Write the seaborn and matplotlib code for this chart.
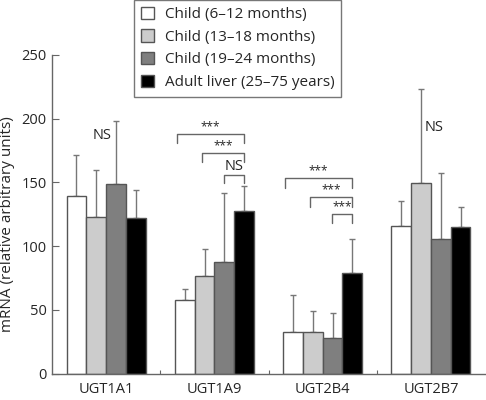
import matplotlib
matplotlib.use("Agg")
import matplotlib.pyplot as plt
import seaborn as sns
import pandas as pd
import numpy as np

genes = ["UGT1A1", "UGT1A9", "UGT2B4", "UGT2B7"]
groups = ["Child (6\u201312 months)", "Child (13\u201318 months)",
          "Child (19\u201324 months)", "Adult liver (25\u201375 years)"]
means = {
    groups[0]: [139.6, 57.5, 32.5, 115.6],
    groups[1]: [122.7, 76.6, 32.5, 149.8],
    groups[2]: [148.5, 87.4, 27.7, 105.6],
    groups[3]: [121.9, 127.4, 78.7, 115.3],
}
err_tops = {
    groups[0]: [171.3, 66.7, 61.5, 135.4],
    groups[1]: [160.0, 97.8, 49.0, 223.0],
    groups[2]: [198.4, 142.0, 47.4, 157.6],
    groups[3]: [144.3, 147.0, 105.4, 130.5],
}
colors = ["#ffffff", "#cccccc", "#7f7f7f", "#000000"]
yticks = [0, 50, 100, 150, 200, 250]

# significance annotations: (gene index, x-offset left, x-offset right, bracket y, tick bottom, label)
brackets = [
    (1, -0.345, 0.27, 188.0, 180.7, "***"),
    (1, -0.111, 0.27, 173.3, 166.0, "***"),
    (1, 0.086, 0.27, 155.8, 149.2, "NS"),
    (2, -0.35, 0.27, 153.3, 145.9, "***"),
    (2, -0.113, 0.27, 138.4, 131.0, "***"),
    (2, 0.085, 0.27, 125.0, 118.0, "***"),
]
ns_labels = [(0, -0.04, 181.0, "NS"), (3, 0.03, 187.0, "NS")]

rows = []
for g in groups:
    for i, gene in enumerate(genes):
        rows.append({"gene": gene, "group": g, "value": means[g][i],
                     "top": err_tops[g][i]})
df = pd.DataFrame(rows)

sns.set_style("white")
plt.rcParams["font.family"] = ["Open Sans", "DejaVu Sans"]
FS = 10.5

fig = plt.figure(figsize=(4.86, 4.0), dpi=100)
ax = fig.add_axes([0.107, 0.066, 0.891, 0.797])

sns.barplot(data=df, x="gene", y="value", hue="group", order=genes,
            hue_order=groups, palette=colors, width=0.73, errorbar=None,
            edgecolor="#555555", linewidth=1.0, ax=ax, legend=True, zorder=2)

# error bars (upper only)
nb = len(groups)
w = 0.73 / nb
for j, g in enumerate(groups):
    sub = df[df.group == g].set_index("gene").loc[genes]
    xs = np.arange(len(genes)) + (j - (nb - 1) / 2) * w
    up = sub["top"].values - sub["value"].values
    ax.errorbar(xs, sub["value"].values, yerr=[np.zeros_like(up), up],
                fmt="none", ecolor="#777777", elinewidth=1.0, capsize=2.5,
                capthick=1.0, zorder=1)

for gi, xl, xr, yb, yt, lab in brackets:
    x0, x1 = gi + xl, gi + xr
    ax.plot([x0, x0, x1, x1], [yt, yb, yb, yt], color="#666666", lw=1.0,
            zorder=3, clip_on=False)
    if lab == "NS":
        ax.text((x0 + x1) / 2, yb + 1.0, lab, ha="center", va="bottom",
                fontsize=FS)
    else:
        ax.text((x0 + x1) / 2, yb + 0.5, lab, ha="center", va="bottom",
                fontsize=8.5)
for gi, off, y, lab in ns_labels:
    ax.text(gi + off, y, lab, ha="center", va="bottom", fontsize=FS)

ax.set_xlim(-0.5, 3.5)
ax.set_ylim(0, 250)
ax.set_yticks(yticks)
ax.set_yticklabels([str(t) for t in yticks], fontsize=FS)
ax.set_xticks(range(len(genes)))
ax.set_xticklabels(genes, fontsize=FS)
ax.set_xticks([0.5, 1.5, 2.5], minor=True)
ax.tick_params(axis="x", which="major", length=0, pad=6)
ax.tick_params(axis="x", which="minor", direction="in", length=3,
               color="#666666", width=0.8, bottom=True)
ax.tick_params(axis="y", direction="in", length=5, color="#666666",
               width=0.8, left=True, pad=4)
ax.set_xlabel("")
ax.set_ylabel("mRNA (relative arbitrary units)", fontsize=11, labelpad=3)
ax.yaxis.set_label_coords(-0.085, 0.47)
sns.despine(ax=ax)
for s in ["left", "bottom"]:
    ax.spines[s].set_color("#666666")
    ax.spines[s].set_linewidth(1.0)

leg = ax.legend(loc="upper left", bbox_to_anchor=(134 / 486, 1.0),
                bbox_transform=fig.transFigure, frameon=True, fontsize=11,
                handlelength=0.85, handleheight=0.85, handletextpad=0.7,
                borderpad=0.45, labelspacing=0.47, fancybox=False,
                borderaxespad=0)
leg.get_frame().set_edgecolor("#555555")
leg.get_frame().set_linewidth(1.0)

fig.savefig("out.png", dpi=100)
